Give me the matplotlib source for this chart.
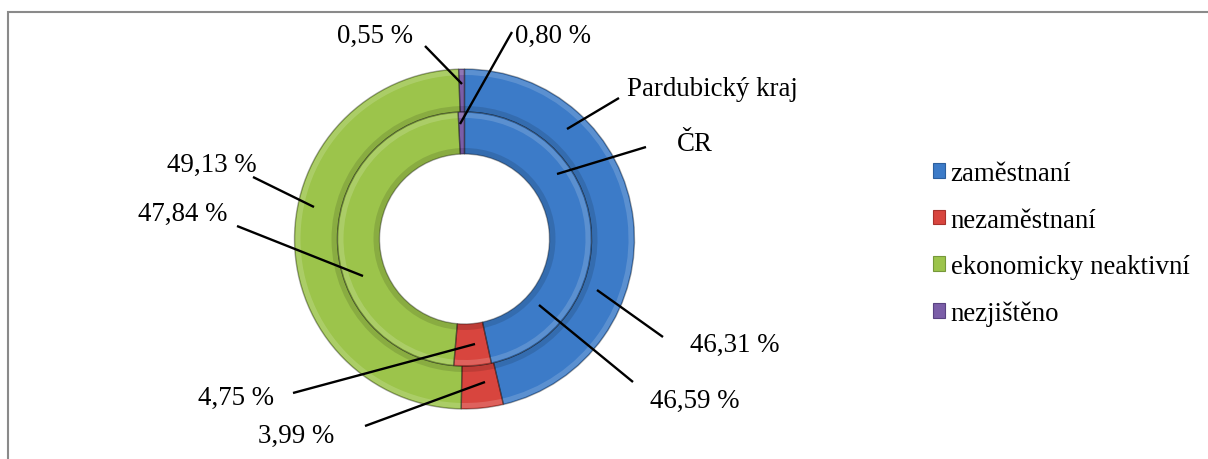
import matplotlib
matplotlib.use('Agg')
import matplotlib.pyplot as plt
from matplotlib.patches import Patch, Rectangle

# data (percent)
categories = ["zaměstnaní", "nezaměstnaní", "ekonomicky neaktivní", "nezjištěno"]
kraj_values = [46.31, 3.99, 49.13, 0.55]   # outer ring - Pardubický kraj
cr_values = [46.59, 4.75, 47.84, 0.80]     # inner ring - ČR
series_names = ["Pardubický kraj", "ČR"]

colors = ['#3c7bc8', '#d8453e', '#9cc44b', '#7b5ea8']
edge_colors = ['#2c5f9e', '#a8322c', '#76983a', '#5a4382']

W, H = 1208, 460
FONT = ['Liberation Serif', 'DejaVu Serif']
FS = 19.4


def fmt(v):
	return ("%.2f" % v).replace('.', ',') + " %"


def iy(y):
	# picture rows run downwards, axes y upwards
	return H - y


fig = plt.figure(figsize=(W / 100, H / 100), dpi=100)
ax = fig.add_axes([0, 0, 1, 1])

center = (464.5, iy(240))
rings = [(kraj_values, 170, 43), (cr_values, 127, 42)]
for vals, r, w in rings:
	ax.pie(vals, radius=r, center=center, startangle=90, counterclock=False,
		colors=colors, wedgeprops=dict(width=w, edgecolor='none'))
	# bevel look: light strip on the outer edge, shade on the inner edge
	ax.pie(vals, radius=r - 1, center=center, startangle=90, counterclock=False,
		colors=['white'] * 4, wedgeprops=dict(width=5, edgecolor='none', alpha=0.16))
	ax.pie(vals, radius=r - w + 6, center=center, startangle=90, counterclock=False,
		colors=['black'] * 4, wedgeprops=dict(width=6, edgecolor='none', alpha=0.12))
	ax.pie(vals, radius=r, center=center, startangle=90, counterclock=False,
		colors=['none'] * 4, wedgeprops=dict(width=w, edgecolor='#00000055', linewidth=1.0))

# leader lines (picture coords) and label positions (left, baseline)
leaders = [
	((425, 47), (462, 85)),
	((512, 33), (460, 125)),
	((619, 99), (567, 130)),
	((646, 148), (557, 175)),
	((253, 178), (314, 208)),
	((237, 227), (363, 277)),
	((293, 394), (475, 345)),
	((365, 427), (485, 383)),
	((663, 338), (597, 291)),
	((633, 383), (539, 306)),
]
label_pos = [
	(337, 43), (515, 43), (627, 96), (677, 151), (167, 172),
	(138, 221), (198, 405), (258, 443), (690, 352), (650, 408),
]
texts = [
	fmt(kraj_values[3]), fmt(cr_values[3]), series_names[0], series_names[1],
	fmt(kraj_values[2]), fmt(cr_values[2]), fmt(cr_values[1]), fmt(kraj_values[1]),
	fmt(kraj_values[0]), fmt(cr_values[0]),
]

for (p0, p1) in leaders:
	ax.plot([p0[0], p1[0]], [iy(p0[1]), iy(p1[1])], color='black', linewidth=1.7,
		solid_capstyle='butt')

for (x, y), t in zip(label_pos, texts):
	ax.text(x, iy(y), t, ha='left', va='baseline', fontsize=FS, family=FONT, color='black')

# chart area frame (only top and left sides are inside the picture)
ax.add_patch(Rectangle((8, -20), W + 20, iy(13) + 20, fill=False,
	edgecolor='#8a8a8a', linewidth=1.5))

ax.set_xlim(0, W)
ax.set_ylim(0, H)
ax.set_aspect('equal')
ax.axis('off')

handles = [Patch(facecolor=c, edgecolor=e, linewidth=0.8) for c, e in zip(colors, edge_colors)]
fig.legend(handles, categories, loc='upper left', bbox_to_anchor=(933 / W, 1 - 162 / H),
	frameon=False, borderpad=0, borderaxespad=0, handlelength=0.45, handleheight=0.45,
	handletextpad=0.2, labelspacing=0.8, prop={'family': FONT, 'size': FS})

fig.savefig('out.png', dpi=100, facecolor='white')
